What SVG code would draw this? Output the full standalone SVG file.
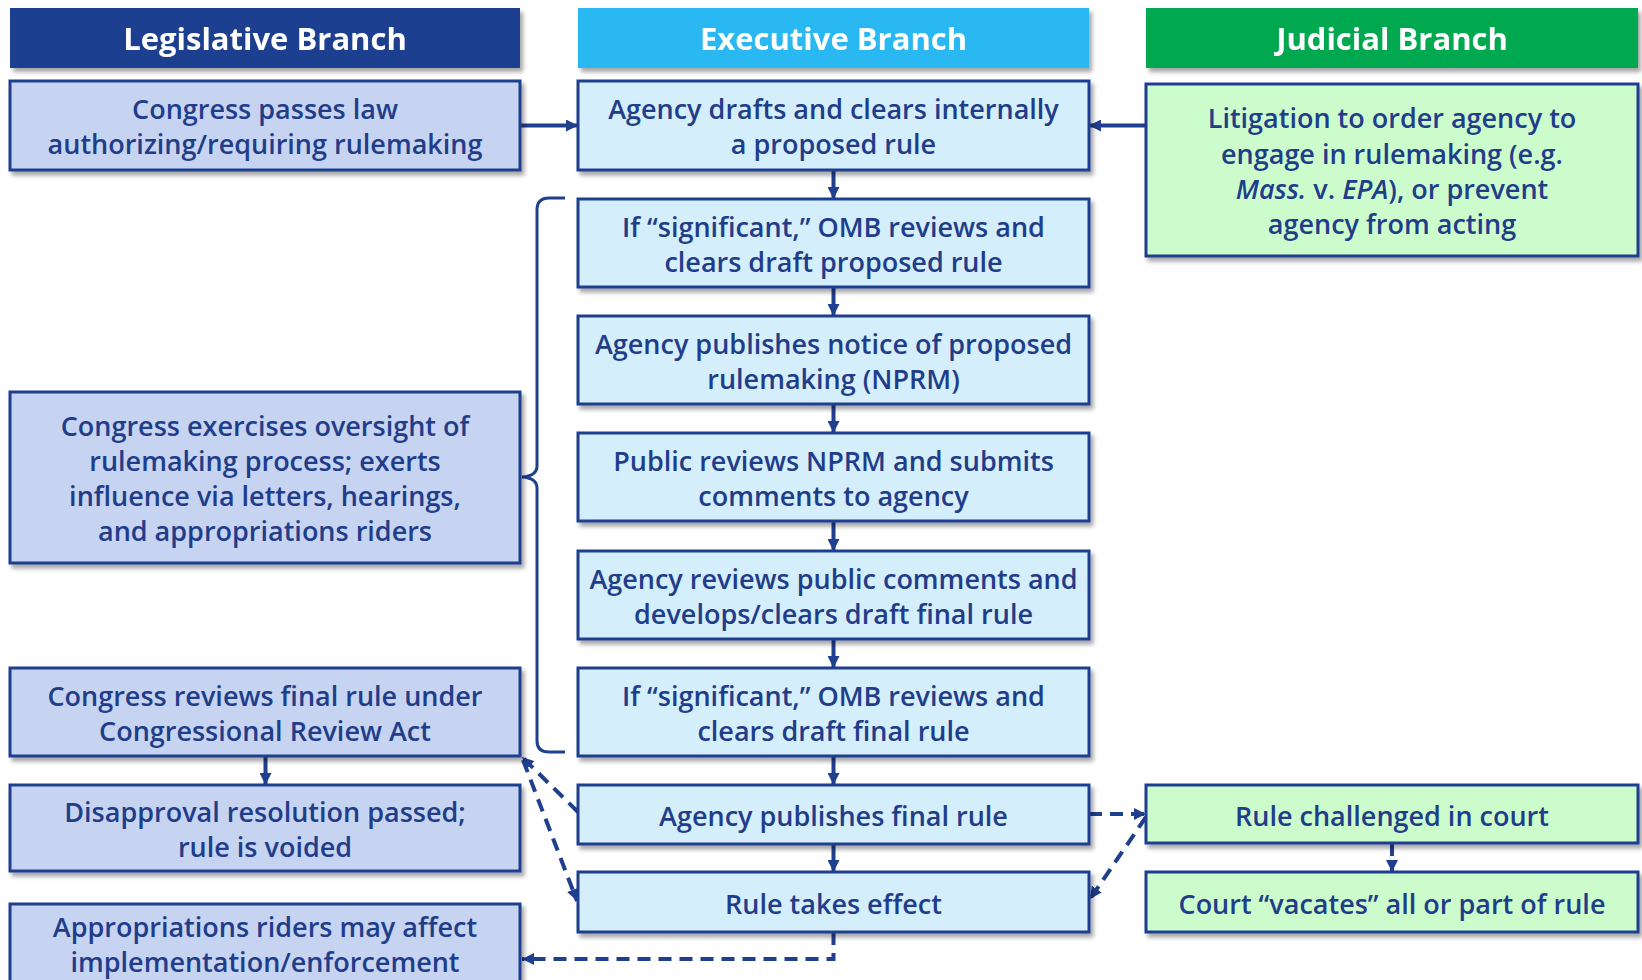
<svg xmlns="http://www.w3.org/2000/svg" width="1642" height="980" viewBox="0 0 1642 980">
<defs>
<filter id="sh" x="-5%" y="-10%" width="115%" height="130%">
<feDropShadow dx="3" dy="4" stdDeviation="2" flood-color="#000" flood-opacity="0.35"/>
</filter>
<marker id="ah" viewBox="0 0 10 10" refX="10" refY="5" markerWidth="12" markerHeight="12" markerUnits="userSpaceOnUse" orient="auto">
<path d="M0,0 L10,5 L0,10 z" fill="#1F3F8F"/>
</marker>
<style>
.hd{filter:url(#sh)}
.hl{fill:#1F3F8F}
.he{fill:#29B8F2}
.hj{fill:#00A94F}
.ht{font-family:"Open Sans","Noto Sans",sans-serif;font-weight:700;font-size:31px;fill:#fff;text-anchor:middle;dominant-baseline:central}
.bx{stroke:#1F3F8F;stroke-width:3;filter:url(#sh)}
.leg{fill:#C6D4F2}
.exe{fill:#D5EEFB}
.jud{fill:#CCFCCC}
.t{font-family:"Open Sans","Noto Sans",sans-serif;font-weight:600;font-size:27px;fill:#213D8A;text-anchor:middle;dominant-baseline:central}
.c{fill:none;stroke:#1F3F8F;stroke-width:4}
.d{fill:none;stroke:#1F3F8F;stroke-width:4;stroke-dasharray:13 8}
.br{fill:none;stroke:#1F3F8F;stroke-width:3}
</style>
</defs>

<g id="header-legislative" class="hd"><rect class="hl" x="10" y="8" width="510" height="60"/><text class="ht" x="265" y="38">Legislative Branch</text></g>
<g id="header-executive" class="hd"><rect class="he" x="578" y="8" width="511" height="60"/><text class="ht" x="833.5" y="38">Executive Branch</text></g>
<g id="header-judicial" class="hd"><rect class="hj" x="1146" y="8" width="492" height="60"/><text class="ht" x="1392" y="38">Judicial Branch</text></g>

<g id="connectors">
<path class="c" d="M521,125.5 H578" marker-end="url(#ah)"/>
<path class="c" d="M1146,125.5 H1089" marker-end="url(#ah)"/>
<path class="c" d="M833.5,170 V199" marker-end="url(#ah)"/>
<path class="c" d="M833.5,287 V316" marker-end="url(#ah)"/>
<path class="c" d="M833.5,404 V433" marker-end="url(#ah)"/>
<path class="c" d="M833.5,521 V551" marker-end="url(#ah)"/>
<path class="c" d="M833.5,639 V668" marker-end="url(#ah)"/>
<path class="c" d="M833.5,756 V785" marker-end="url(#ah)"/>
<path class="c" d="M833.5,844 V872" marker-end="url(#ah)"/>
<path class="c" d="M265.5,756 V785" marker-end="url(#ah)"/>
<path class="br" d="M565,198 L549,198 Q537,198 537,210 L537,466 Q537,476 522,477 Q537,478 537,488 L537,741 Q537,752 549,752 L565,752"/>
<path class="d" d="M578,812 L522,757" marker-end="url(#ah)"/>
<path class="d" d="M523,760 L577,901" marker-end="url(#ah)"/>
<path class="d" d="M1089,814 H1146" marker-end="url(#ah)"/>
<path class="d" d="M1146,817 L1090,899" marker-end="url(#ah)"/>
<path class="d" d="M1392,843 V872" marker-end="url(#ah)"/>
<path class="d" d="M833.5,932 V959 H522" marker-end="url(#ah)"/>
</g>

<g id="congress-passes-law"><rect class="bx leg" x="10" y="81" width="510" height="89"/><text class="t"><tspan x="265" y="108">Congress passes law</tspan><tspan x="265" y="143">authorizing/requiring rulemaking</tspan></text></g>
<g id="agency-drafts"><rect class="bx exe" x="578" y="81" width="511" height="89"/><text class="t"><tspan x="833.5" y="108">Agency drafts and clears internally</tspan><tspan x="833.5" y="143">a proposed rule</tspan></text></g>
<g id="litigation"><rect class="bx jud" x="1146" y="84" width="492" height="172"/><text class="t"><tspan x="1392" y="117">Litigation to order agency to</tspan><tspan x="1392" y="152.5">engage in rulemaking (e.g.</tspan><tspan x="1392" y="188"><tspan font-style="italic">Mass.</tspan> v. <tspan font-style="italic">EPA</tspan>), or prevent</tspan><tspan x="1392" y="223">agency from acting</tspan></text></g>
<g id="omb-proposed"><rect class="bx exe" x="578" y="199" width="511" height="88"/><text class="t"><tspan x="833.5" y="226">If “significant,” OMB reviews and</tspan><tspan x="833.5" y="261">clears draft proposed rule</tspan></text></g>
<g id="nprm"><rect class="bx exe" x="578" y="316" width="511" height="88"/><text class="t"><tspan x="833.5" y="343">Agency publishes notice of proposed</tspan><tspan x="833.5" y="378">rulemaking (NPRM)</tspan></text></g>
<g id="public-reviews"><rect class="bx exe" x="578" y="433" width="511" height="88"/><text class="t"><tspan x="833.5" y="460">Public reviews NPRM and submits</tspan><tspan x="833.5" y="495">comments to agency</tspan></text></g>
<g id="agency-reviews"><rect class="bx exe" x="578" y="551" width="511" height="88"/><text class="t"><tspan x="833.5" y="578">Agency reviews public comments and</tspan><tspan x="833.5" y="613">develops/clears draft final rule</tspan></text></g>
<g id="omb-final"><rect class="bx exe" x="578" y="668" width="511" height="88"/><text class="t"><tspan x="833.5" y="695">If “significant,” OMB reviews and</tspan><tspan x="833.5" y="730">clears draft final rule</tspan></text></g>
<g id="publishes-final"><rect class="bx exe" x="578" y="785" width="511" height="59"/><text class="t" x="833.5" y="815">Agency publishes final rule</text></g>
<g id="takes-effect"><rect class="bx exe" x="578" y="872" width="511" height="60"/><text class="t" x="833.5" y="903">Rule takes effect</text></g>
<g id="oversight"><rect class="bx leg" x="10" y="392" width="510" height="171"/><text class="t"><tspan x="265" y="425">Congress exercises oversight of</tspan><tspan x="265" y="460">rulemaking process; exerts</tspan><tspan x="265" y="495">influence via letters, hearings,</tspan><tspan x="265" y="530">and appropriations riders</tspan></text></g>
<g id="cra-review"><rect class="bx leg" x="10" y="668" width="510" height="88"/><text class="t"><tspan x="265" y="695">Congress reviews final rule under</tspan><tspan x="265" y="730">Congressional Review Act</tspan></text></g>
<g id="disapproval"><rect class="bx leg" x="10" y="785" width="510" height="86"/><text class="t"><tspan x="265" y="811">Disapproval resolution passed;</tspan><tspan x="265" y="846">rule is voided</tspan></text></g>
<g id="appropriations"><rect class="bx leg" x="10" y="904" width="510" height="84"/><text class="t"><tspan x="265" y="926">Appropriations riders may affect</tspan><tspan x="265" y="961">implementation/enforcement</tspan></text></g>
<g id="challenged"><rect class="bx jud" x="1146" y="785" width="492" height="58"/><text class="t" x="1392" y="815">Rule challenged in court</text></g>
<g id="vacates"><rect class="bx jud" x="1146" y="872" width="492" height="60"/><text class="t" x="1392" y="903">Court “vacates” all or part of rule</text></g>
</svg>
